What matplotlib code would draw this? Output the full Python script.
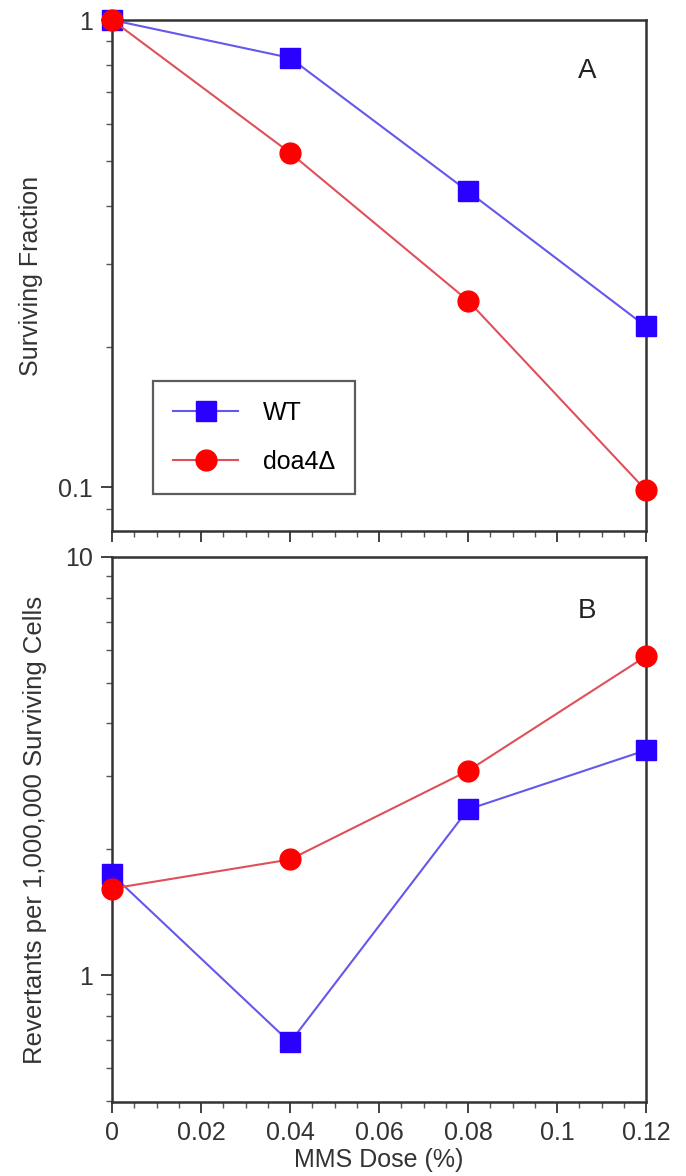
import numpy as np
import matplotlib
matplotlib.use('Agg')
import matplotlib.pyplot as plt
from matplotlib.ticker import LogLocator, FixedLocator, NullFormatter

plt.rcParams['font.family'] = ['Liberation Sans', 'DejaVu Sans']

# Data
dose = [0, 0.04, 0.08, 0.12]
surv_wt = [1.0, 0.83, 0.43, 0.221]
surv_doa4 = [1.0, 0.52, 0.251, 0.0986]
rev_wt = [1.74, 0.69, 2.49, 3.45]
rev_doa4 = [1.61, 1.89, 3.08, 5.79]
x_ticks = [0, 0.02, 0.04, 0.06, 0.08, 0.1, 0.12]
x_ticklabels = ['0', '0.02', '0.04', '0.06', '0.08', '0.1', '0.12']

W, H = 686, 1176
fig = plt.figure(figsize=(W / 100, H / 100), dpi=100)

left, right = 112 / W, 646 / W
axA = fig.add_axes([left, 1 - 531 / H, right - left, (531 - 20) / H])
axB = fig.add_axes([left, 1 - 1102 / H, right - left, (1102 - 557) / H])

blue_line = '#6458ec'
red_line = '#e0505a'
blue_mk = '#2a00ff'
red_mk = '#ff0000'
FS = 18
txt = '#333333'

def style(ax, ylim, yticks, ylabels):
    ax.set_yscale('log')
    ax.set_xlim(0, 0.12)
    ax.set_ylim(*ylim)
    ax.xaxis.set_major_locator(FixedLocator(x_ticks))
    ax.xaxis.set_minor_locator(FixedLocator(np.arange(0, 0.1201, 0.005)))
    ax.yaxis.set_major_locator(FixedLocator(yticks))
    ax.yaxis.set_minor_locator(LogLocator(base=10, subs=np.arange(2, 10)))
    ax.yaxis.set_minor_formatter(NullFormatter())
    ax.set_yticklabels(ylabels)
    ax.tick_params(axis='both', which='major', direction='out', length=8, width=1.3,
                   labelsize=FS, colors=txt, labelcolor=txt, pad=6)
    ax.tick_params(axis='both', which='minor', direction='out', length=4, width=1.0,
                   colors='#555555')
    for s in ax.spines.values():
        s.set_linewidth(1.8)
        s.set_color(txt)

# Panel A
axA.plot(dose, surv_wt, color=blue_line, lw=1.5, marker='s', ms=14,
         mfc=blue_mk, mec=blue_mk, label='WT', clip_on=False, zorder=3)
axA.plot(dose, surv_doa4, color=red_line, lw=1.5, marker='o', ms=15,
         mfc=red_mk, mec=red_mk, label='doa4\u0394', clip_on=False, zorder=4)
style(axA, (0.0807, 1.0), [0.1, 1], ['0.1', '1'])
axA.set_xticklabels([])
axA.set_ylabel('Surviving Fraction', fontsize=FS, color=txt)
axA.yaxis.set_label_coords(-0.13, 0.5)
axA.text(0.89, 0.9, 'A', transform=axA.transAxes, fontsize=20, color='#222222',
         ha='center', va='center')
leg = axA.legend(loc='lower left', bbox_to_anchor=(0.077, 0.073), borderaxespad=0,
                 fontsize=FS, frameon=True, fancybox=False, edgecolor=txt,
                 borderpad=0.8, labelspacing=1.0, handlelength=2.6, handletextpad=1.0)
leg.get_frame().set_linewidth(1.6)

# Panel B
axB.plot(dose, rev_wt, color=blue_line, lw=1.5, marker='s', ms=14,
         mfc=blue_mk, mec=blue_mk, clip_on=False, zorder=3)
axB.plot(dose, rev_doa4, color=red_line, lw=1.5, marker='o', ms=15,
         mfc=red_mk, mec=red_mk, clip_on=False, zorder=4)
style(axB, (0.497, 10), [1, 10], ['1', '10'])
axB.set_xticklabels(x_ticklabels)
axB.set_ylabel('Revertants per 1,000,000 Surviving Cells', fontsize=FS + 0.5, color=txt)
axB.yaxis.set_label_coords(-0.122, 0.5)
axB.set_xlabel('MMS Dose (%)', fontsize=FS, color=txt, labelpad=2)
axB.text(0.89, 0.9, 'B', transform=axB.transAxes, fontsize=20, color='#222222',
         ha='center', va='center')

fig.savefig('out.png', dpi=100)
